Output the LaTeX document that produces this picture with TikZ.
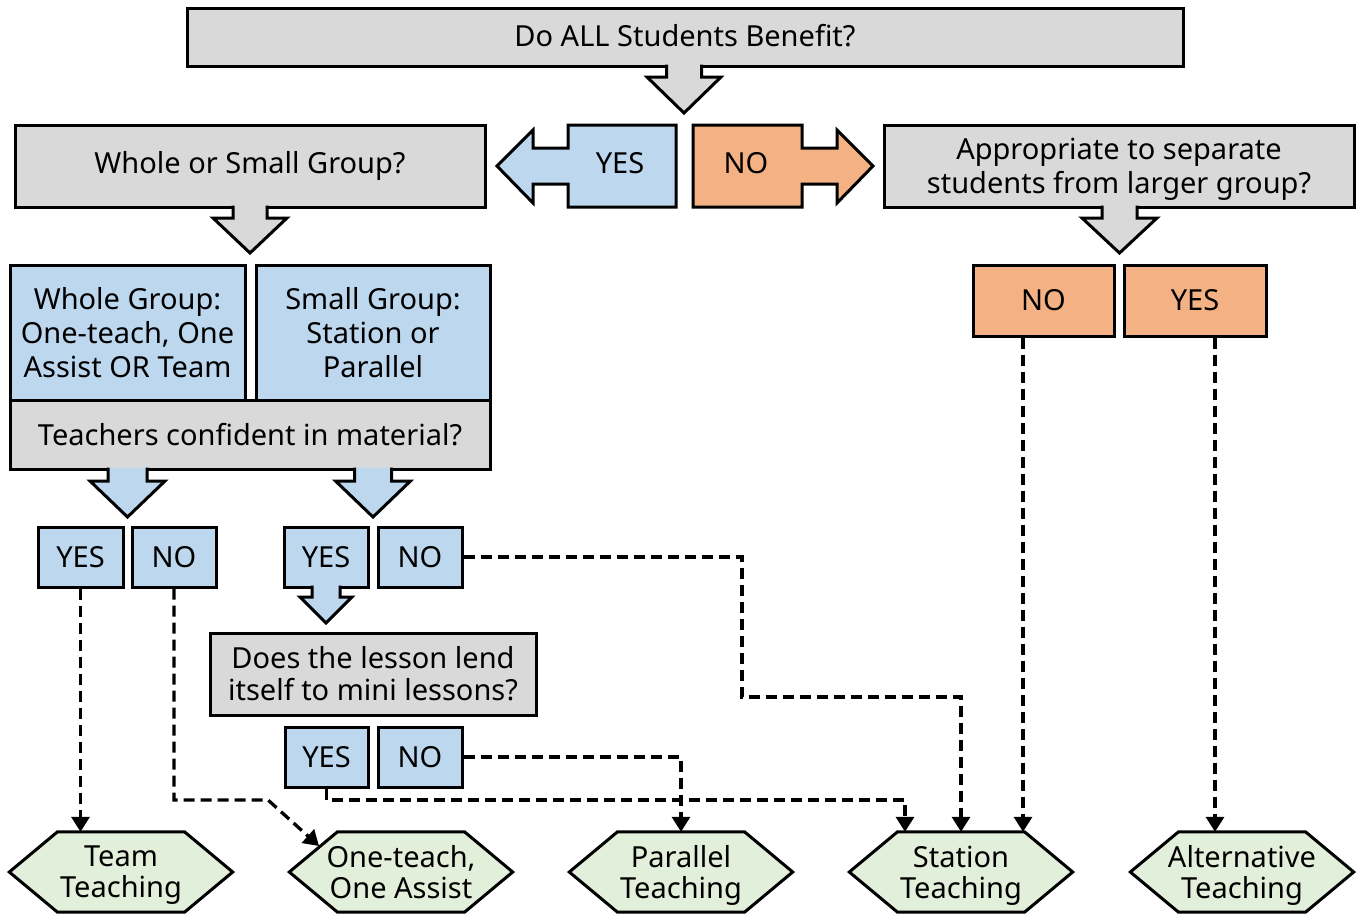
\documentclass[tikz,border=0pt]{standalone}
\usepackage{fontspec}
\setmainfont{Noto Sans}
\usetikzlibrary{arrows.meta,backgrounds,calc}
\definecolor{cgray}{HTML}{D9D9D9}
\definecolor{cblue}{HTML}{BDD7EE}
\definecolor{corange}{HTML}{F4B183}
\definecolor{cgreen}{HTML}{E2EFDA}
% #1 colour, #2 centre x, #3 shaft top, #4 head base, #5 tip, #6 shaft half width, #7 head half width
\newcommand{\blockdown}[7]{%
  \fill[#1] (#2-#6,#3) -- (#2-#6,#4) -- (#2-#7,#4) -- (#2,#5) -- (#2+#7,#4) -- (#2+#6,#4) -- (#2+#6,#3) -- cycle;
  \draw[outl] (#2-#6,#3) -- (#2-#6,#4) -- (#2-#7,#4) -- (#2,#5) -- (#2+#7,#4) -- (#2+#6,#4) -- (#2+#6,#3);}
\begin{document}
\begin{tikzpicture}[x=1pt,y=-1pt,
  outl/.style={line width=3pt, line join=miter, draw=black},
  box/.style={draw=black, line width=3pt, inner sep=0pt, align=center, font=\fontsize{29}{34}\selectfont},
  gbox/.style={box, fill=cgray},
  bbox/.style={box, fill=cblue},
  obox/.style={box, fill=corange},
  lbl/.style={inner sep=0pt, font=\fontsize{29}{34}\selectfont},
  hex/.style={inner sep=0pt, minimum width=223pt, minimum height=80pt, text depth=0pt, align=center, font=\fontsize{29}{31}\selectfont},
  hexdraw/.style={draw=black, line width=3pt, line join=miter, fill=cgreen},
  conn/.style={line width=3.3pt, dash pattern=on 11pt off 6pt, line join=miter, -{Triangle[length=15pt,width=18pt]}}
]
\useasboundingbox (0,0) rectangle (1356,913);

% question boxes
\node[gbox, minimum width=996pt, minimum height=58pt] (q1) at (685,37) {\raisebox{2.5pt}{Do ALL Students Benefit?}};
\node[gbox, minimum width=470pt, minimum height=82pt] (q2) at (250,166) {Whole or Small Group?};
\node[gbox, minimum width=470pt, minimum height=82pt, text depth=0pt] (q3) at (1119,166) {Appropriate to separate\\students from larger group?};
\node[bbox, minimum width=235pt, minimum height=135pt] (wg) at (127.5,332.5) {Whole Group:\\One-teach, One\\Assist OR Team};
\node[bbox, minimum width=234pt, minimum height=135pt] (sg) at (373,332.5) {Small Group:\\Station or\\Parallel};
\node[gbox, minimum width=480pt, minimum height=69pt] (tc) at (250,434.5) {Teachers confident in material?};
\node[bbox, minimum width=85pt, minimum height=60pt] (y1) at (80.5,557) {YES};
\node[bbox, minimum width=84pt, minimum height=60pt] (n1) at (174,557) {NO};
\node[bbox, minimum width=84pt, minimum height=60pt] (y2) at (326,557) {YES};
\node[bbox, minimum width=84pt, minimum height=60pt] (n2) at (420,557) {NO};
\node[gbox, minimum width=326pt, minimum height=82pt, font=\fontsize{29}{32}\selectfont] (q4) at (373,674) {Does the lesson lend\\itself to mini lessons?};
\node[bbox, minimum width=83pt, minimum height=60pt] (y3) at (326.5,757) {YES};
\node[bbox, minimum width=84pt, minimum height=60pt] (n3) at (420,757) {NO};
\node[obox, minimum width=141pt, minimum height=71pt] (on) at (1043.5,300.5) {NO};
\node[obox, minimum width=142pt, minimum height=71pt] (oy) at (1195,300.5) {YES};

% block arrows
\blockdown{cgray}{684}{64.5}{77}{113}{17.5}{37}
\blockdown{cgray}{250}{205.5}{218}{253}{17}{37}
\blockdown{cgray}{1119.5}{205.5}{218}{253}{17.5}{37.5}
\blockdown{cblue}{127.5}{467.5}{481}{517}{19.5}{37.5}
\blockdown{cblue}{373}{467.5}{481}{517}{18.5}{37.5}
\blockdown{cblue}{326}{585.5}{597}{623}{14}{26}

% YES / NO side arrows
\filldraw[outl, fill=cblue] (676,125) -- (568,125) -- (568,148) -- (533,148) -- (533,130) -- (497,166) -- (533,203) -- (533,184) -- (568,184) -- (568,207) -- (676,207) -- cycle;
\node[lbl] (yesA) at (620,163) {YES};
\filldraw[outl, fill=corange] (693,125) -- (802,125) -- (802,148) -- (837,148) -- (837,130) -- (873,166) -- (837,203) -- (837,184) -- (802,184) -- (802,207) -- (693,207) -- cycle;
\node[lbl] (noA) at (746,163) {NO};

% outcome hexagons
\node[hex] (tt) at (121,872) {Team\\Teaching};
\node[hex] (oa) at (401,872) {One-teach,\\One Assist};
\node[hex] (pt) at (681,872) {Parallel\\Teaching};
\node[hex] (st) at (961,872) {Station\\Teaching};
\node[hex] (alt) at (1242,872) {Alternative\\Teaching};
\begin{pgfonlayer}{background}
\foreach \n in {tt,oa,pt,st,alt}
  \filldraw[hexdraw] (\n.west) -- ([xshift=-63.5pt]\n.north) -- ([xshift=63.5pt]\n.north) -- (\n.east) -- ([xshift=63.5pt]\n.south) -- ([xshift=-63.5pt]\n.south) -- cycle;
\end{pgfonlayer}

% connector end points
\coordinate (oaIn) at (319,846);
\coordinate (stA) at ($(st.north)+(-56,0)$);
\coordinate (stC) at ($(st.north)+(62,0)$);
\coordinate (altA) at ($(alt.north)+(-27,0)$);

% dashed connectors
\draw[conn] (y1.south) -- (y1.south |- tt.north);
\draw[conn] (n1.south) -- (n1.south |- 0,800) -- (268,800) -- (oaIn);
\draw[conn] (y3.south) -- (y3.south |- 0,800) -| (stA);
\draw[conn] (n3.east) -| (pt.north);
\draw[conn] (n2.east) -| (742,697) -| (st.north);
\draw[conn] (on.south -| stC) -- (stC);
\draw[conn] (oy.south -| altA) -- (altA);
\end{tikzpicture}
\end{document}
